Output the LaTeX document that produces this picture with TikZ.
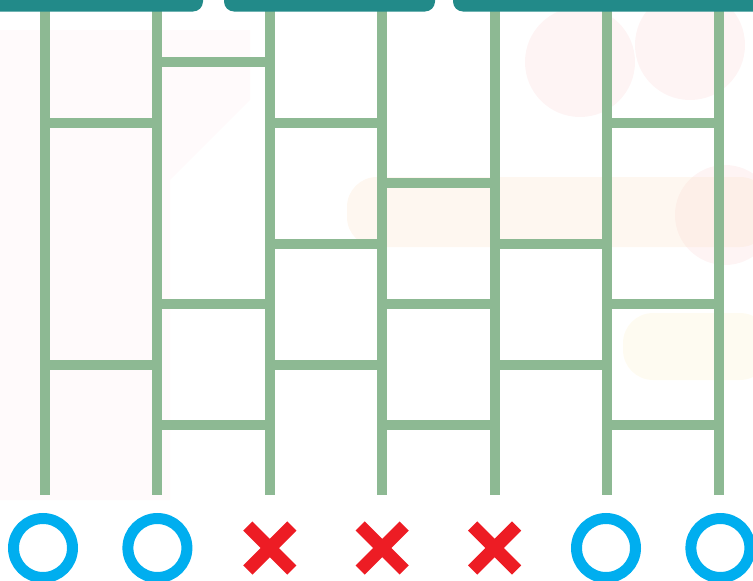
\documentclass[tikz,border=0pt]{standalone}
\usepackage{tikz}
\usetikzlibrary{shapes.misc,calc}
\definecolor{Teal}{HTML}{228A89}
\definecolor{Rail}{HTML}{8DB993}
\definecolor{Blue}{HTML}{00AEEF}
\definecolor{Red}{HTML}{ED1C24}
\definecolor{Peach}{HTML}{FCE4CC}
\definecolor{Blush}{HTML}{FBDADB}
\definecolor{Cream}{HTML}{FDF3D2}
\tikzset{
  rail/.style={Rail,line width=10pt},
  headbar/.style={fill=Teal,rounded corners=10pt},
  okmark/.style={circle,draw=Blue,line width=11pt,minimum size=59pt,inner sep=0pt},
  ngmark/.style={cross out,draw=Red,line width=13pt,minimum size=44pt,inner sep=0pt,outer sep=0pt},
  blob/.style={opacity=0.3}
}

\begin{document}
\begin{tikzpicture}[x=1pt,y=-1pt]
  \useasboundingbox (0,0) rectangle (753,581);
  % faint background
  \fill[Blush,opacity=0.12] (0,30) -- (250,30) -- (250,100) -- (170,180) -- (170,500) -- (0,500) -- cycle;
  \fill[Blush,blob] (580,62) circle (55);
  \fill[Blush,blob] (690,45) circle (55);
  \fill[Blush,blob] (725,215) circle (50);
  \fill[Peach,blob,rounded corners=30pt] (347,177) rectangle (770,247);
  \fill[Cream,blob,rounded corners=30pt] (623,313) rectangle (770,380);
  % rails
  \foreach \i in {1,...,7}{
    \coordinate (t\i) at ({45+112.4*(\i-1)},0);
    \coordinate (b\i) at ({45+112.4*(\i-1)},495);
    \draw[rail] (t\i) -- (b\i);
  }
  % rungs: left rail / level
  \foreach \i/\k in {1/2,1/6, 2/1,2/5,2/7, 3/2,3/4,3/6, 4/3,4/5,4/7, 5/4,5/6, 6/2,6/5,6/7}{
    \pgfmathtruncatemacro{\j}{\i+1}
    \draw[rail] ($(t\i)+(0,{62+60.5*(\k-1)})$) -- ($(t\j)+(0,{62+60.5*(\k-1)})$);
  }
  % head bars
  \fill[headbar] (-20,-20) rectangle (203,11.5);
  \fill[headbar] (224,-20) rectangle (435,11.5);
  \fill[headbar] (453,-20) rectangle (790,11.5);
  % results
  \node[okmark] (r1) at ($(b1)+(-2,53)$) {};
  \node[okmark] (r2) at ($(b2)+(0,53)$) {};
  \node[ngmark] (r3) at ($(b3)+(0,53)$) {};
  \node[ngmark] (r4) at ($(b4)+(0,53)$) {};
  \node[ngmark] (r5) at ($(b5)+(0,53)$) {};
  \node[okmark] (r6) at ($(b6)+(-1,53)$) {};
  \node[okmark] (r7) at ($(b7)+(1,53)$) {};
\end{tikzpicture}
\end{document}
